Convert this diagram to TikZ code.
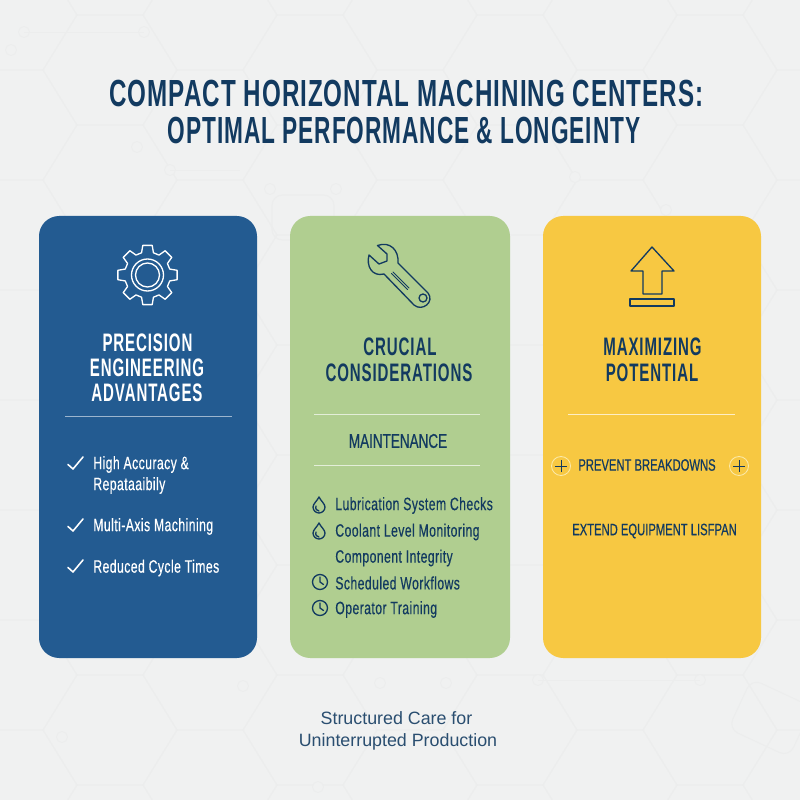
\documentclass[tikz,border=0pt]{standalone}
\usepackage{fontspec}
\setmainfont{Liberation Sans}
\newfontfamily\condfont[FakeStretch=0.68]{Liberation Sans}
\newfontfamily\titlefont[FakeStretch=0.64,LetterSpace=2.7]{Liberation Sans}
\newfontfamily\titlefontb[FakeStretch=0.6,LetterSpace=2.5]{Liberation Sans}
\newfontfamily\headfont[FakeStretch=0.595,LetterSpace=3.5]{Liberation Sans}
\newfontfamily\bodyfont[FakeStretch=0.68,LetterSpace=2.5,FakeBold=0.35]{Liberation Sans}
\newfontfamily\subfont[FakeStretch=0.68,FakeBold=0.5]{Liberation Sans}
\definecolor{pagegray}{HTML}{F0F1F1}
\definecolor{hexgray}{HTML}{ECEDED}
\definecolor{cardblue}{HTML}{235B91}
\definecolor{cardgreen}{HTML}{B0CE90}
\definecolor{cardyellow}{HTML}{F7C842}
\definecolor{navy}{HTML}{123A60}
\definecolor{softplus}{HTML}{FBE9A8}
\tikzset{
	bigtitle/.style={text=navy,font=\titlefont\bfseries\fontsize{21.5}{24}\selectfont,inner sep=0pt},
	bigtitleb/.style={text=navy,font=\titlefontb\bfseries\fontsize{21.5}{24}\selectfont,inner sep=0pt},
	cardhead/.style={font=\headfont\bfseries\fontsize{14.4}{16}\selectfont,inner sep=0pt},
	cardsub/.style={text=navy,font=\subfont\fontsize{9.4}{12}\selectfont,inner sep=0pt},
	cardtext/.style={font=\bodyfont\fontsize{10.2}{12}\selectfont,inner sep=0pt},
	footline/.style={text=navy!90!white,font=\fontsize{10.15}{12}\selectfont,inner sep=0pt},
	rule/.style={line width=0.5pt},
	icon/.style={line width=0.75pt,line join=round,line cap=round},
	droplet/.pic={
		\draw[icon,navy] (0,-8) .. controls (-2,-4) and (-6,-1) .. (-6,2) .. controls (-6,5.5) and (-3,8) .. (0,8) .. controls (3,8) and (6,5.5) .. (6,2) .. controls (6,-1) and (2,-4) .. (0,-8) -- cycle;
		\draw[icon,navy] (-3,1) .. controls (-4,4) and (-2,6) .. (0,6);
	},
	clockface/.pic={
		\draw[icon,navy] (0,0) circle [radius=7.5];
		\draw[icon,navy] (0,-5) -- (0,0) -- (3.5,2.5);
	},
	tick/.pic={
		\draw[icon,white,line width=0.9pt] (-7.5,0.5) -- (-2.5,5) -- (7.5,-7);
	},
	pluscoin/.pic={
		\draw[softplus,line width=0.5pt] (0,0) circle [radius=9.5];
		\draw[navy,line width=0.55pt] (-6,0) -- (6,0) (0,-6) -- (0,6);
	},
}
\begin{document}
\begin{tikzpicture}[x=0.02cm,y=-0.02cm]
	\useasboundingbox (0,0) rectangle (800,800);
	\fill[pagegray] (0,0) rectangle (800,800);
	\foreach \i in {-6,...,2} {
		\foreach \j in {-1,...,7} {
			\pgfmathsetmacro{\hx}{610+100*\i}
			\pgfmathsetmacro{\hy}{15+110*\j+55*mod(abs(\i),2)}
			\draw[hexgray,line width=0.45pt] (\hx-67,\hy) -- (\hx-33,\hy-55) -- (\hx+33,\hy-55) -- (\hx+67,\hy) -- (\hx+33,\hy+55) -- (\hx-33,\hy+55) -- cycle;
		}
	}
	\foreach \cx/\cy in {24/32,11/50,144/32,137/147,170/170,270/189,336/189,575/177,666/210,62/737,243/686,380/683,446/683,538/680,700/680,318/787} {
		\draw[hexgray,fill=pagegray,line width=0.5pt] (\cx,\cy) circle [radius=5.5];
	}
	\draw[hexgray,line width=0.45pt] (24,32) -- (144,32);
	\draw[hexgray,line width=0.45pt] (170,170) -- (240,170);
	\draw[hexgray,line width=0.45pt] (538,680) -- (700,680);
	\draw[hexgray,line width=0.6pt,rounded corners=6pt] (272,195) rectangle (334,240);
	\draw[hexgray,line width=0.6pt,rotate around={-25:(770,715)},rounded corners=6pt] (738,690) rectangle (805,745);

	\fill[cardblue,rounded corners=11.5pt] (39,216) rectangle (257,658);
	\fill[cardgreen,rounded corners=11.5pt] (290,216) rectangle (510,658);
	\fill[cardyellow,rounded corners=11.5pt] (543,216) rectangle (761,658);

	\node[bigtitle] (t1) at (406.5,93) {COMPACT HORIZONTAL MACHINING CENTERS:};
	\node[bigtitleb] (t2) at (404,130) {OPTIMAL PERFORMANCE \& LONGEINTY};

	\begin{scope}[shift={(147.5,275)}]
		\draw[white,icon] (-9:30) \foreach \a in {0,45,...,315} { -- (\a-9:30) -- (\a+9:30) -- (\a+15:23) -- (\a+30:23) -- (\a+36:30) } -- cycle;
		\draw[white,icon] (0,0) circle [radius=16];
		\draw[white,icon] (0,0) circle [radius=12];
	\end{scope}
	\node[cardhead,white] (p1) at (147.5,343) {PRECISION};
	\node[cardhead,white] (p2) at (147,368) {ENGINEERING};
	\node[cardhead,white] (p3) at (147,393) {ADVANTAGES};
	\coordinate (r1a) at (65,416);
	\coordinate (r1b) at (232,416);
	\draw[rule,white!55!cardblue] (r1a) -- (r1b);
	\pic at (75.5,464) {tick};
	\node[cardtext,white,anchor=west] (a1) at (93,464.5) {High Accuracy \&};
	\node[cardtext,white,anchor=west] (a2) at (93,485.5) {Repataaibily};
	\pic at (75.5,526) {tick};
	\node[cardtext,white,anchor=west] (a3) at (93,526.5) {Multi-Axis Machining};
	\pic at (75.5,567) {tick};
	\node[cardtext,white,anchor=west] (a4) at (93,568) {Reduced Cycle Times};

	\draw[icon,navy] (377.5,245.5) .. controls (390,241) and (399,250) .. (398,263) -- (428,293) .. controls (435,302) and (422,312) .. (414,305) -- (384,274) .. controls (372,277) and (366,266) .. (369,255) -- (379,264) -- (387,261) -- (387,254) -- cycle;
	\draw[icon,navy,line width=0.55pt] (393,272) -- (409,288);
	\draw[icon,navy,line width=0.55pt] (391.5,273.5) -- (407.5,289.5);
	\draw[icon,navy] (423,298) circle [radius=4];
	\node[cardhead,navy] (c1) at (400,347) {CRUCIAL};
	\node[cardhead,navy] (c2) at (399,373) {CONSIDERATIONS};
	\coordinate (r2a) at (314,414);
	\coordinate (r2b) at (480,414);
	\draw[rule,white!65!cardgreen] (r2a) -- (r2b);
	\node[cardsub,font=\subfont\fontsize{11.3}{12}\selectfont] (m1) at (398,441) {MAINTENANCE};
	\coordinate (r3a) at (314,465);
	\coordinate (r3b) at (480,465);
	\draw[rule,white!65!cardgreen] (r3a) -- (r3b);
	\pic at (319,505) {droplet};
	\node[cardtext,navy,anchor=west] (b1) at (335,505.5) {Lubrication System Checks};
	\pic at (319,531) {droplet};
	\node[cardtext,navy,anchor=west] (b2) at (335,532) {Coolant Level Monitoring};
	\node[cardtext,navy,anchor=west] (b3) at (335,558) {Component Integrity};
	\pic at (320,582) {clockface};
	\node[cardtext,navy,anchor=west] (b4) at (335,583) {Scheduled Workflows};
	\pic at (320,608) {clockface};
	\node[cardtext,navy,anchor=west] (b5) at (335,609.5) {Operator Training};

	\draw[icon,navy] (652,247) -- (674,271) -- (662,271) -- (662,294) -- (643,294) -- (643,271) -- (631,271) -- cycle;
	\draw[icon,navy] (630,299) rectangle (674,306);
	\node[cardhead,navy] (y1) at (652.5,347) {MAXIMIZING};
	\node[cardhead,navy] (y2) at (652,373) {POTENTIAL};
	\coordinate (r4a) at (568,414);
	\coordinate (r4b) at (735,414);
	\draw[rule,white!70!cardyellow] (r4a) -- (r4b);
	\pic at (561,466) {pluscoin};
	\node[cardsub] (e1) at (647,465) {PREVENT BREAKDOWNS};
	\pic at (739,466) {pluscoin};
	\node[cardsub] (e2) at (654.5,531) {EXTEND EQUIPMENT LISFPAN};

	\node[footline] (f1) at (396.5,718.5) {Structured Care for};
	\node[footline] (f2) at (398,741.5) {Uninterrupted Production};
\end{tikzpicture}
\end{document}
